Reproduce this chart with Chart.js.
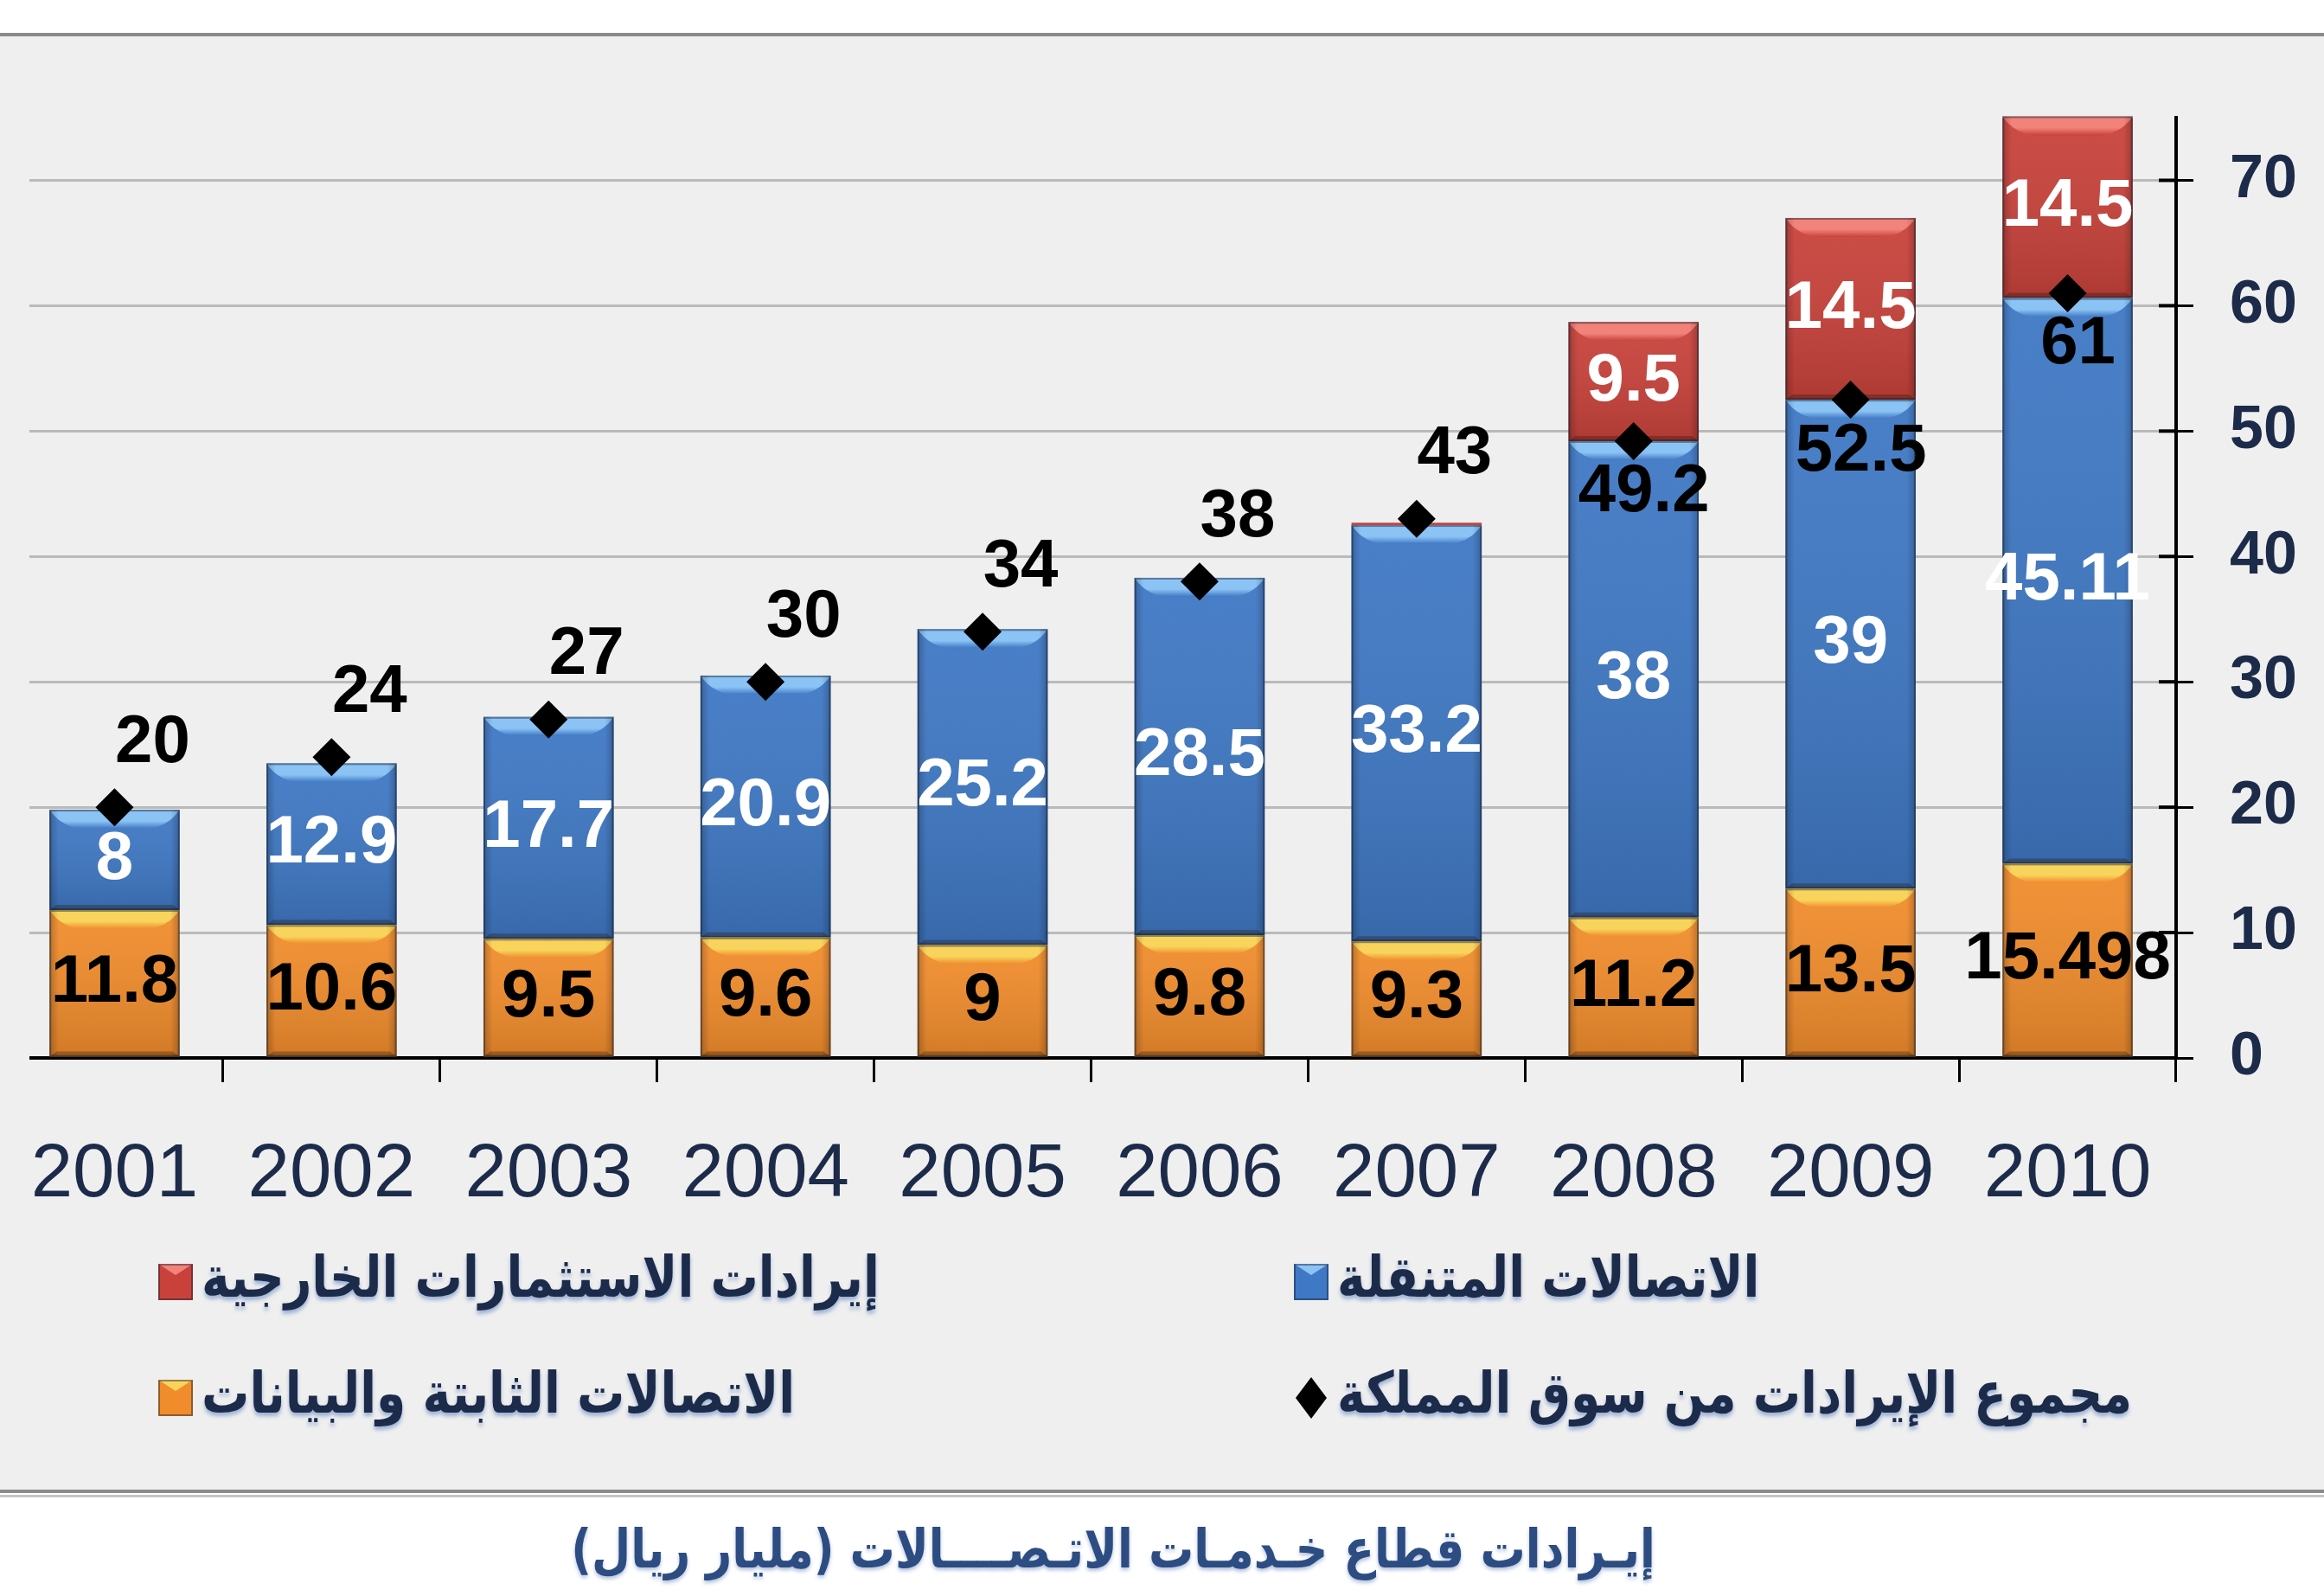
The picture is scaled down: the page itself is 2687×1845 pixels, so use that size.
<!DOCTYPE html>
<html>
<head>
<meta charset="utf-8">
<title>إيرادات قطاع خدمات الاتصالات</title>
<script src="https://cdn.jsdelivr.net/npm/chart.js"></script>
<style>
html, body {
  margin: 0;
  padding: 0;
  background: #fff;
}
#chartContainer {
  width: 2687px;
  height: 1845px;
}
</style>
</head>
<body>
  <div id="chartContainer">
    <canvas id="myChart"></canvas>
  </div>

  <script>
  // values (billion riyals)
  const years = ['2001', '2002', '2003', '2004', '2005', '2006', '2007', '2008', '2009', '2010'];
  const fixedData = [11.8, 10.6, 9.5, 9.6, 9, 9.8, 9.3, 11.2, 13.5, 15.498];
  const mobileData = [8, 12.9, 17.7, 20.9, 25.2, 28.5, 33.2, 38, 39, 45.11];
  const foreignData = [0, 0, 0, 0, 0, 0, 0.2, 9.5, 14.5, 14.5];
  const totalData = [20, 24, 27, 30, 34, 38, 43, 49.2, 52.5, 61];

  const fixedLabel = 'الاتصالات الثابتة والبيانات';
  const mobileLabel = 'الاتصالات المتنقلة';
  const foreignLabel = 'إيرادات الاستثمارات الخارجية';
  const totalLabel = 'مجموع الإيرادات من سوق المملكة';
  const caption = 'إيـرادات قطاع خـدمـات الاتـصــــالات (مليار ريال)';

  const navy = '#1c2b4a';
  const panelColor = '#efefef';
  const arabicFont = '"DejaVu Sans", sans-serif';
  const numberFont = '"Liberation Sans", Arial, sans-serif';

  // grey panel, frame lines and the caption under it
  const framePlugin = {
    id: 'frame',
    beforeDraw(chart) {
      const ctx = chart.ctx;
      const w = chart.width;
      ctx.save();
      ctx.fillStyle = '#ffffff';
      ctx.fillRect(0, 0, w, chart.height);
      ctx.fillStyle = panelColor;
      ctx.fillRect(0, 40, w, 1684);
      ctx.fillStyle = '#8a8a8a';
      ctx.fillRect(0, 38, w, 4);
      ctx.fillRect(0, 1722, w, 4);
      ctx.fillStyle = '#c4c4c4';
      ctx.fillRect(0, 1728, w, 3);
      ctx.restore();
    },
    beforeDatasetsDraw(chart) {
      // the grid and base line start a little right of the plot edge
      const a = chart.chartArea;
      const ctx = chart.ctx;
      ctx.save();
      ctx.fillStyle = panelColor;
      ctx.fillRect(0, a.top - 6, 34, a.bottom - a.top + 45);
      ctx.restore();
    },
    afterDraw(chart) {
      const ctx = chart.ctx;
      ctx.save();
      ctx.translate(1287, 1796);
      ctx.scale(0.84, 1);
      ctx.direction = 'rtl';
      ctx.textAlign = 'center';
      ctx.textBaseline = 'middle';
      ctx.font = 'bold 62px ' + arabicFont;
      ctx.shadowColor = 'rgba(90,120,180,0.45)';
      ctx.shadowOffsetY = 3;
      ctx.shadowBlur = 4;
      ctx.fillStyle = '#2c4c82';
      ctx.fillText(caption, 0, 0);
      ctx.restore();
    }
  };

  // bevelled look of the bar segments
  const bevelPlugin = {
    id: 'bevel',
    afterDatasetDraw(chart, args) {
      const ds = chart.data.datasets[args.index];
      if (ds.type === 'line') return;
      const ctx = chart.ctx;
      ctx.save();
      args.meta.data.forEach(bar => {
        const p = bar.getProps(['x', 'y', 'base', 'width'], true);
        const h = p.base - p.y;
        if (h < 12) return;
        const w = p.width;
        const l = p.x - w / 2;
        const r = p.x + w / 2;
        const b = Math.min(22, h / 3);
        // body shading, darker towards the bottom
        const shade = ctx.createLinearGradient(0, p.y, 0, p.base);
        shade.addColorStop(0, 'rgba(255,255,255,0.05)');
        shade.addColorStop(1, 'rgba(0,0,0,0.13)');
        ctx.fillStyle = shade;
        ctx.fillRect(l, p.y, w, h);
        // top facet with rounded lower edge
        const g = ctx.createLinearGradient(0, p.y, 0, p.y + b);
        g.addColorStop(0, ds.bevelColor);
        g.addColorStop(0.6, ds.bevelColor);
        g.addColorStop(1, ds.backgroundColor);
        ctx.fillStyle = g;
        ctx.beginPath();
        ctx.moveTo(l, p.y);
        ctx.lineTo(r, p.y);
        ctx.quadraticCurveTo(r - w * 0.1, p.y + b, r - w * 0.28, p.y + b);
        ctx.lineTo(l + w * 0.28, p.y + b);
        ctx.quadraticCurveTo(l + w * 0.1, p.y + b, l, p.y);
        ctx.closePath();
        ctx.fill();
        // side edges
        const side = ctx.createLinearGradient(l, 0, r, 0);
        side.addColorStop(0, 'rgba(0,0,0,0.22)');
        side.addColorStop(0.07, 'rgba(0,0,0,0)');
        side.addColorStop(0.93, 'rgba(0,0,0,0)');
        side.addColorStop(1, 'rgba(0,0,0,0.22)');
        ctx.fillStyle = side;
        ctx.fillRect(l, p.y, w, h);
        // bottom facet
        ctx.fillStyle = 'rgba(40,15,0,0.3)';
        ctx.beginPath();
        ctx.moveTo(l, p.base);
        ctx.lineTo(l + 8, p.base - 6);
        ctx.lineTo(r - 8, p.base - 6);
        ctx.lineTo(r, p.base);
        ctx.closePath();
        ctx.fill();
        // thin outline
        ctx.strokeStyle = 'rgba(20,30,50,0.45)';
        ctx.lineWidth = 2;
        ctx.strokeRect(l + 1, p.y + 1, w - 2, h - 2);
      });
      ctx.restore();
    }
  };

  // numbers on the segments and beside the diamonds
  const labelPlugin = {
    id: 'valueLabels',
    afterDatasetsDraw(chart) {
      const ctx = chart.ctx;
      ctx.save();
      ctx.font = 'bold 78px ' + numberFont;
      ctx.textAlign = 'center';
      ctx.textBaseline = 'middle';
      chart.data.datasets.forEach((ds, i) => {
        const meta = chart.getDatasetMeta(i);
        meta.data.forEach((el, j) => {
          const v = ds.data[j];
          if (ds.type === 'line') {
            const above = foreignData[j] < 1;
            ctx.fillStyle = '#000';
            ctx.fillText(String(v), el.x + (above ? 44 : 12), el.y + (above ? -74 : 60));
          } else {
            if (v < 1) return;
            ctx.fillStyle = ds.labelColor;
            ctx.fillText(String(v), el.x, (el.y + el.base) / 2);
          }
        });
      });
      ctx.restore();
    }
  };

  // inner half of the right-axis tick marks
  const innerTickPlugin = {
    id: 'innerTicks',
    afterDraw(chart) {
      const y = chart.scales.y;
      const ctx = chart.ctx;
      ctx.save();
      ctx.strokeStyle = '#000';
      ctx.lineWidth = 4;
      y.ticks.forEach(t => {
        const py = y.getPixelForValue(t.value);
        ctx.beginPath();
        ctx.moveTo(y.left - 20, py);
        ctx.lineTo(y.left, py);
        ctx.stroke();
      });
      ctx.restore();
    }
  };

  // two-column legend, right column first (Arabic reading order)
  const legendPlugin = {
    id: 'rtlLegend',
    afterDraw(chart) {
      const ctx = chart.ctx;
      const ds = chart.data.datasets;
      const items = [
        {d: ds[2], x: 1496, y: 1482},
        {d: ds[3], x: 183, y: 1482},
        {d: ds[0], x: 1496, y: 1616},
        {d: ds[1], x: 183, y: 1616}
      ];
      ctx.save();
      items.forEach(it => {
        const d = it.d;
        if (d.type === 'line') {
          ctx.fillStyle = '#000';
          ctx.beginPath();
          ctx.moveTo(it.x + 20, it.y - 24);
          ctx.lineTo(it.x + 38, it.y);
          ctx.lineTo(it.x + 20, it.y + 24);
          ctx.lineTo(it.x + 2, it.y);
          ctx.closePath();
          ctx.fill();
        } else {
          ctx.fillStyle = d.backgroundColor;
          ctx.fillRect(it.x, it.y - 21, 40, 42);
          ctx.fillStyle = d.bevelColor;
          ctx.beginPath();
          ctx.moveTo(it.x, it.y - 21);
          ctx.lineTo(it.x + 40, it.y - 21);
          ctx.lineTo(it.x + 20, it.y - 8);
          ctx.closePath();
          ctx.fill();
          ctx.strokeStyle = 'rgba(20,30,50,0.45)';
          ctx.lineWidth = 2;
          ctx.strokeRect(it.x + 1, it.y - 20, 38, 40);
        }
        ctx.save();
        ctx.translate(it.x + 50, it.y);
        ctx.scale(0.835, 1);
        ctx.direction = 'rtl';
        ctx.textAlign = 'left';
        ctx.textBaseline = 'middle';
        ctx.font = 'bold 66px ' + arabicFont;
        ctx.shadowColor = 'rgba(80,120,190,0.5)';
        ctx.shadowOffsetY = 4;
        ctx.shadowBlur = 4;
        ctx.fillStyle = navy;
        ctx.fillText(d.label, 0, 0);
        ctx.restore();
      });
      ctx.restore();
    }
  };

  const ctx = document.getElementById('myChart').getContext('2d');
  new Chart(ctx, {
    type: 'bar',
    data: {
      labels: years,
      datasets: [
        {
          type: 'line',
          label: totalLabel,
          data: totalData,
          stack: 'total',
          showLine: false,
          pointStyle: 'rectRot',
          pointRadius: 22,
          pointBackgroundColor: '#000',
          pointBorderColor: '#000',
          pointBorderWidth: 0,
          borderWidth: 0
        },
        {
          label: fixedLabel,
          data: fixedData,
          stack: 'parts',
          backgroundColor: '#f08c2c',
          bevelColor: '#f8d45c',
          labelColor: '#000'
        },
        {
          label: mobileLabel,
          data: mobileData,
          stack: 'parts',
          backgroundColor: '#3f78c4',
          bevelColor: '#8cc3f5',
          labelColor: '#fff'
        },
        {
          label: foreignLabel,
          data: foreignData,
          stack: 'parts',
          backgroundColor: '#c8423b',
          bevelColor: '#f2837a',
          labelColor: '#fff'
        }
      ]
    },
    options: {
      responsive: true,
      maintainAspectRatio: false,
      animation: false,
      devicePixelRatio: 1,
      layout: {
        autoPadding: false,
        padding: {top: 136, right: 0, bottom: 442, left: 7}
      },
      datasets: {
        bar: {
          barPercentage: 0.6,
          categoryPercentage: 1.0,
          borderWidth: 0
        }
      },
      plugins: {
        legend: {display: false},
        tooltip: {enabled: false}
      },
      scales: {
        x: {
          stacked: true,
          offset: true,
          grid: {
            drawOnChartArea: false,
            offset: true,
            tickLength: 28,
            color: '#000',
            lineWidth: 3
          },
          border: {color: '#000', width: 4},
          ticks: {
            color: navy,
            font: {family: numberFont, size: 87},
            padding: 56,
            maxRotation: 0,
            autoSkip: false
          },
          afterFit: scale => {
            scale.paddingLeft = 0;
            scale.paddingRight = 0;
            scale.height = 180;
          }
        },
        y: {
          stacked: true,
          position: 'right',
          min: 0,
          max: 75,
          grid: {
            tickLength: 20,
            tickColor: '#000',
            color: c => c.tick.value === 75 ? '#7d7d7d' : (c.tick.value === 0 ? '#000' : (c.tick.value % 10 === 0 ? '#bababa' : 'rgba(0,0,0,0)')),
            lineWidth: c => c.tick.value === 75 ? 5 : (c.tick.value % 10 === 0 ? 3 : 4)
          },
          border: {color: '#000', width: 4},
          ticks: {
            stepSize: 5,
            color: navy,
            font: {family: numberFont, size: 70, weight: 'bold'},
            padding: 42,
            callback: v => v % 10 === 0 ? v : ''
          },
          afterFit: scale => {
            scale.width = 171;
          }
        }
      }
    },
    plugins: [framePlugin, bevelPlugin, labelPlugin, innerTickPlugin, legendPlugin]
  });
  </script>
</body>
</html>
